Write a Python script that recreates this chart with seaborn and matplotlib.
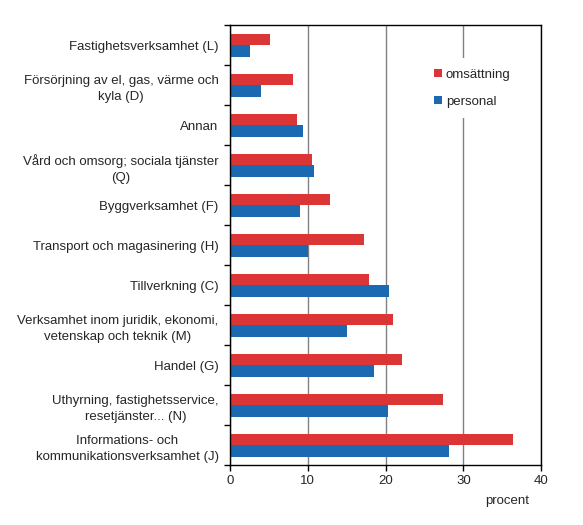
import numpy as np
import pandas as pd
import matplotlib.pyplot as plt
import seaborn as sns

# branch labels, top to bottom
branches = ["Fastighetsverksamhet (L)",
            "Försörjning av el, gas, värme och\nkyla (D)",
            "Annan",
            "Vård och omsorg; sociala tjänster\n(Q)",
            "Byggverksamhet (F)",
            "Transport och magasinering (H)",
            "Tillverkning (C)",
            "Verksamhet inom juridik, ekonomi,\nvetenskap och teknik (M)",
            "Handel (G)",
            "Uthyrning, fastighetsservice,\nresetjänster... (N)",
            "Informations- och\nkommunikationsverksamhet (J)"]
omsattning = [5.2, 8.1, 8.6, 10.5, 12.9, 17.2, 17.9, 21.0, 22.1, 27.4, 36.4]
personal = [2.6, 4.0, 9.4, 10.8, 9.0, 10.0, 20.4, 15.1, 18.5, 20.3, 28.2]
series = ["omsättning", "personal"]
colors = ["#dc3535", "#1a69b1"]
xticks = [0, 10, 20, 30, 40]

df = pd.DataFrame({
    'bransch': branches * 2,
    'serie': [series[0]] * len(branches) + [series[1]] * len(branches),
    'procent': omsattning + personal,
})

sns.set_theme(style="white")
plt.rcParams['font.family'] = ['Liberation Sans', 'DejaVu Sans']

fig = plt.figure(figsize=(5.83, 5.25), dpi=100)
ax = fig.add_axes([0.394, 0.114, 0.5345, 0.838])

sns.barplot(data=df, y='bransch', x='procent', hue='serie', order=branches,
            hue_order=series, palette=colors, orient='h', width=0.58,
            saturation=1, ax=ax, linewidth=0)

ax.set_xlim(0, 40)
ax.set_ylim(len(branches) - 0.5, -0.5)
ax.set_xticks(xticks)
ax.set_xticklabels([str(t) for t in xticks], fontsize=9.5)
ax.set_yticks(range(len(branches)))
ax.set_yticklabels(branches, fontsize=9.5, multialignment='center', linespacing=1.45)
ax.set_yticks(np.arange(-0.5, len(branches), 1.0), minor=True)
ax.tick_params(axis='y', which='major', length=0, pad=8)
ax.tick_params(axis='y', which='minor', length=4, width=1, color='black', left=True)
ax.tick_params(axis='x', which='major', length=4, width=1, color='black', bottom=True, pad=3)
ax.set_xlabel('')
ax.set_ylabel('')

ax.grid(True, axis='x', color='#808080', linewidth=1)
ax.set_axisbelow(True)
for axis in ['top', 'bottom', 'left', 'right']:
    ax.spines[axis].set_linewidth(1)
    ax.spines[axis].set_color('black')

ax.text(0.89, -0.081, "procent", transform=ax.transAxes, fontsize=9.5, ha='center', va='center')

leg = ax.legend(loc='upper left', bbox_to_anchor=(0.6, 0.94), fontsize=9.5,
                handlelength=0.6, handleheight=0.6, handletextpad=0.3,
                labelspacing=1.15, frameon=True, framealpha=1, borderpad=0.8)
leg.get_frame().set_facecolor('white')
leg.get_frame().set_edgecolor('none')
leg.get_frame().set_linewidth(0)

plt.savefig("out.png", dpi=100)
